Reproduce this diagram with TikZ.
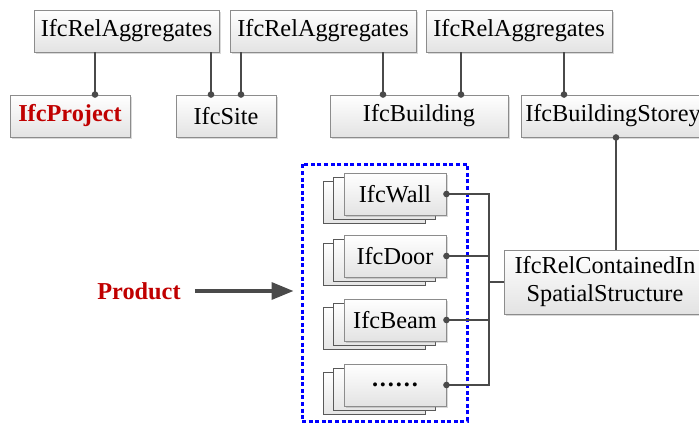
\documentclass[tikz,border=0pt]{standalone}
\usepackage{fontspec}
\setmainfont{Liberation Serif}
\newfontfamily\labelfont{Liberation Serif}
\usetikzlibrary{shadows,arrows.meta}
\definecolor{ifcred}{HTML}{C00000}
\definecolor{wire}{HTML}{4A4A4A}
\definecolor{edge}{HTML}{8C8C8C}
\tikzset{
  entity/.style={draw=edge, line width=0.9pt, top color=white, bottom color=gray!22,
    inner sep=0pt, align=center, font=\labelfont\fontsize{24.3}{28}\selectfont,
    drop shadow={shadow xshift=1.6pt, shadow yshift=-1.6pt, opacity=0.3}},
  card/.style={draw=gray!70!black, line width=0.8pt, top color=white, bottom color=gray!20,
    minimum width=102pt, minimum height=42pt, inner sep=0pt},
  frontcard/.style={entity, minimum width=102pt, minimum height=42pt},
  link/.style={draw=wire, line width=1.4pt},
  joint/.style={fill=wire},
  groupbox/.style={draw=blue, line width=3pt, dash pattern=on 4pt off 2.6pt, inner sep=0pt},
  pointer/.style={draw=wire, line width=3.4pt, -{Triangle[length=22pt,width=17pt]}},
}
\newcommand{\moredots}{\textbf{.\kern1.9pt.\kern1.9pt.\kern1.9pt.\kern1.9pt.\kern1.9pt.}}
\begin{document}
\begin{tikzpicture}[x=1pt,y=1pt]
\useasboundingbox (0,0) rectangle (699,-423);
\clip (0,0) rectangle (699,-423);

% aggregation relations
\node[entity, minimum width=185pt, minimum height=42pt] (ra1) at (126.5,-31) {IfcRelAggregates};
\node[entity, minimum width=186pt, minimum height=42pt] (ra2) at (323,-31) {IfcRelAggregates};
\node[entity, minimum width=186pt, minimum height=42pt] (ra3) at (519,-31) {IfcRelAggregates};

% spatial structure
\node[entity, minimum width=120pt, minimum height=42pt, text=ifcred, font=\labelfont\fontsize{24.3}{28}\selectfont\bfseries] (proj) at (70,-116) {IfcProject};
\node[entity, minimum width=100pt, minimum height=42pt] (site) at (226,-116) {IfcSite};
\node[entity, minimum width=178pt, minimum height=42pt] (bldg) at (419,-116) {IfcBuilding};
\node[entity, minimum width=184pt, minimum height=42pt] (storey) at (613,-116) {IfcBuildingStorey};

% containment relation
\node[entity, minimum width=202pt, minimum height=64pt] (relc) at (605,-282) {IfcRelContainedIn\\SpatialStructure};

% product group
\node[groupbox, minimum width=165pt, minimum height=257pt] (group) at (384.5,-292.5) {};
\foreach \nm/\cy/\txt in {wall/194/IfcWall, door/256/IfcDoor, beam/320/IfcBeam, more/385/\moredots}{
  \node[card] at (374,-\cy-8) {};
  \node[card] at (384.5,-\cy-4) {};
  \node[frontcard] (\nm) at (395,-\cy) {\txt};
}

\node[text=ifcred, inner sep=0pt, font=\labelfont\fontsize{24.3}{28}\selectfont\bfseries] (product) at (139,-291) {Product};
\coordinate (tip) at ([xshift=-7pt]group.west);
\draw[pointer] ([xshift=14pt]product.east) -- (tip |- product.east);

% aggregation connectors
\draw[link] ([xshift=-31.5pt]ra1.south) -- ([xshift=25pt]proj.north);
\fill[joint] ([xshift=25pt]proj.north) circle (3.3pt);
\draw[link] ([xshift=84.5pt]ra1.south) -- ([xshift=-15pt]site.north);
\fill[joint] ([xshift=-15pt]site.north) circle (3.3pt);
\draw[link] ([xshift=-82pt]ra2.south) -- ([xshift=15pt]site.north);
\fill[joint] ([xshift=15pt]site.north) circle (3.3pt);
\draw[link] ([xshift=60pt]ra2.south) -- ([xshift=-36pt]bldg.north);
\fill[joint] ([xshift=-36pt]bldg.north) circle (3.3pt);
\draw[link] ([xshift=-58pt]ra3.south) -- ([xshift=42pt]bldg.north);
\fill[joint] ([xshift=42pt]bldg.north) circle (3.3pt);
\draw[link] ([xshift=45pt]ra3.south) -- ([xshift=-49pt]storey.north);
\fill[joint] ([xshift=-49pt]storey.north) circle (3.3pt);

% containment connectors
\draw[link] ([xshift=3pt]storey.south) -- ([xshift=11pt]relc.north);
\fill[joint] ([xshift=3pt]storey.south) circle (3.3pt);
\coordinate (bus) at (489,0);
\draw[link] (wall.east) -- (wall.east -| bus) -- (more.east -| bus) -- (more.east);
\draw[link] (door.east) -- (door.east -| bus);
\draw[link] (beam.east) -- (beam.east -| bus);
\draw[link] (relc.west) -- (relc.west -| bus);
\foreach \nm in {wall,door,beam,more}{
  \fill[joint] (\nm.east) circle (3.3pt);
}
\end{tikzpicture}
\end{document}
